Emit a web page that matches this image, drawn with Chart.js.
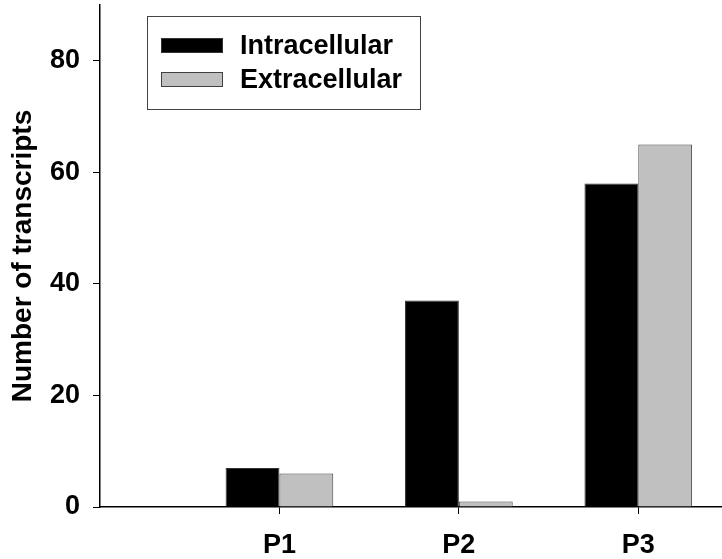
<!DOCTYPE html>
<html>
<head>
<meta charset="utf-8">
<script src="https://cdn.jsdelivr.net/npm/chart.js@4"></script>
<style>
  html, body { margin: 0; padding: 0; background: #fff; overflow: hidden; }
  #wrap { width: 740px; height: 559px; }
</style>
</head>
<body>
<div id="wrap"><canvas id="c" width="740" height="559"></canvas></div>
<script>
const categories = ['P1', 'P2', 'P3'];
const seriesNames = ['Intracellular', 'Extracellular'];
const intracellular = [7, 37, 58];
const extracellular = [6, 1, 65];
const yTicks = [0, 20, 40, 60, 80];
const yMax = 90;
const xMax = 3.5;

const FONT = '"Liberation Sans", Arial, sans-serif';

function toPoints(vals) {
  return vals.map((v, i) => ({ x: i + 1, y: v }));
}

const legendBox = {
  id: 'legendBox',
  afterDraw(chart) {
    const ctx = chart.ctx;
    ctx.save();
    ctx.lineWidth = 1;
    ctx.strokeStyle = '#444';
    ctx.strokeRect(147.5, 16.5, 273, 93);
    chart.data.datasets.forEach((ds, i) => {
      const y = 38 + i * 34;
      ctx.fillStyle = ds.backgroundColor;
      ctx.fillRect(161, y, 62, 15);
      ctx.strokeStyle = ds.borderColor;
      ctx.strokeRect(161.5, y + 0.5, 61, 14);
      ctx.fillStyle = '#000';
      ctx.font = 'bold 27px ' + FONT;
      ctx.textBaseline = 'alphabetic';
      ctx.textAlign = 'left';
      ctx.fillText(ds.label, 240, y + 15.5);
    });
    ctx.restore();
  }
};

function zeroPad(scale) {
  scale.paddingTop = 0; scale.paddingBottom = 0;
  scale.paddingLeft = 0; scale.paddingRight = 0;
}

new Chart(document.getElementById('c'), {
  type: 'bar',
  data: {
    datasets: [
      { label: seriesNames[0], data: toPoints(intracellular), backgroundColor: '#000000', borderColor: '#333333', borderWidth: 1 },
      { label: seriesNames[1], data: toPoints(extracellular), backgroundColor: '#c0c0c0', borderColor: '#404040', borderWidth: 1 }
    ]
  },
  options: {
    responsive: false,
    animation: false,
    devicePixelRatio: 1,
    categoryPercentage: 0.6,
    barPercentage: 1.0,
    layout: { padding: { top: 5, right: 12, bottom: 0, left: 0 } },
    plugins: { legend: { display: false }, tooltip: { enabled: false } },
    scales: {
      x: {
        type: 'linear',
        min: 0,
        max: xMax,
        offset: false,
        afterBuildTicks(scale) {
          scale.ticks = categories.map((c, i) => ({ value: i + 1 }));
        },
        afterFit(scale) { scale.height = 52; zeroPad(scale); },
        grid: { display: true, offset: false, drawOnChartArea: false, drawTicks: true, tickLength: 7, color: '#000', lineWidth: 1 },
        border: { display: true, color: '#000', width: 1.5 },
        ticks: {
          callback: (v) => categories[Math.round(v) - 1] || '',
          color: '#000',
          font: { family: FONT, size: 27, weight: 'bold' },
          padding: 15,
          maxRotation: 0,
          autoSkip: false
        }
      },
      y: {
        min: 0,
        max: yMax,
        afterBuildTicks(scale) {
          scale.ticks = yTicks.map(v => ({ value: v }));
        },
        afterFit(scale) { scale.width = 100; zeroPad(scale); },
        grid: { display: true, drawOnChartArea: false, drawTicks: true, tickLength: 7, color: '#000', lineWidth: 1 },
        border: { display: true, color: '#000', width: 1.5 },
        ticks: {
          color: '#000',
          font: { family: FONT, size: 27, weight: 'bold' },
          padding: 13
        },
        title: {
          display: true,
          text: 'Number of transcripts',
          color: '#000',
          font: { family: FONT, size: 28, weight: 'bold' },
          padding: { top: 6, bottom: 0 }
        }
      }
    }
  },
  plugins: [legendBox]
});
</script>
</body>
</html>
